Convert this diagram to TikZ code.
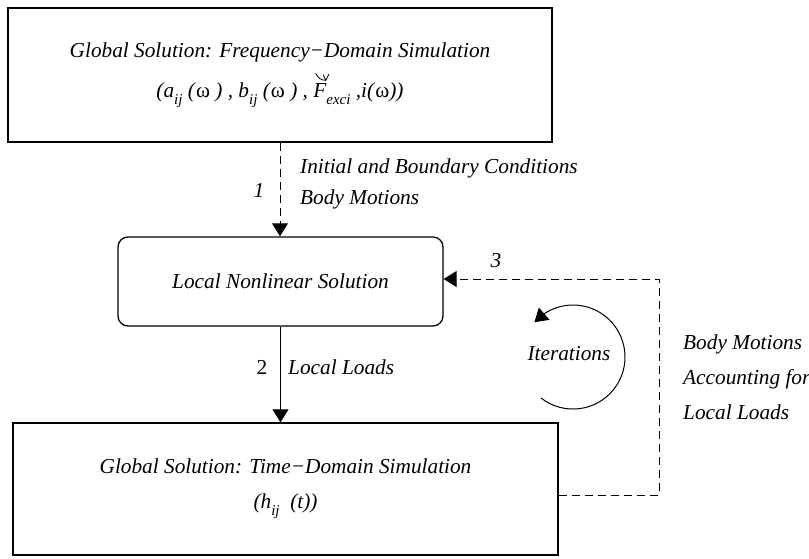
\documentclass[tikz,border=0pt]{standalone}
\usepackage{fontspec}
\setmainfont{Liberation Serif}
\usetikzlibrary{arrows.meta,bending}

% lowered subscript in running italic text
\newcommand\lowsub[1]{\raisebox{-0.32em}{\fontsize{15}{15}\selectfont #1}}
% upright omega
\newcommand\om{\textup{ω}}
% F with the curved check accent drawn over it
\newcommand\Fcheck{\makebox[0pt][l]{\hspace{2pt}\raisebox{0.8em}{\tikz[baseline=0pt,x=1pt,y=1pt]
  \draw[line width=0.8pt,line cap=round,line join=miter]
  (0,7) .. controls (2,2) and (6,0) .. (10,0) (7.5,5.5) -- (10,0) -- (13,6);}}F}

\begin{document}
\begin{tikzpicture}[x=1pt,y=1pt,
  every node/.style={inner sep=0pt},
  font=\fontsize{21.3}{26}\selectfont\itshape,
  box/.style={draw, line width=1.3pt, align=center},
  link/.style={line width=1pt, -{Triangle[length=13pt,width=16pt]}},
  dashlink/.style={link, dash pattern=on 8pt off 5pt}]
\useasboundingbox (0,0) rectangle (809,558);

% the three solution stages
\node[box, minimum width=544pt, minimum height=134pt,
      font=\fontsize{21.3}{40}\selectfont\itshape] (freq) at (280,483)
  {Global Solution: Frequency−Domain Simulation\\
   (a\lowsub{ij} (\om\ ) , b\lowsub{ij} (\om\ ) , \Fcheck\lowsub{exci} ,i(\om))};
\node[box, rounded corners=10pt, minimum width=325pt, minimum height=89pt] (loc)
  at (280.5,276.5) {Local Nonlinear Solution};
\node[box, minimum width=545pt, minimum height=132pt,
      font=\fontsize{21.3}{35}\selectfont\itshape] (tdom) at (285.5,69)
  {Global Solution: Time−Domain Simulation\\
   (h\lowsub{ij}\ \ (t))};

% step 1
\draw[dashlink] (freq.south) -- (freq.south |- loc.north);
\node (n1) at (259,368) {1};
\node[anchor=west, align=left, font=\fontsize{21.3}{31}\selectfont\itshape] (ibc)
  at (300,374.5) {Initial and Boundary Conditions\\Body Motions};

% step 2
\draw[link] (loc.south) -- (loc.south |- tdom.north);
\node (n2) at (262,191) {\upshape 2};
\node[anchor=west] (ll) at (288,191) {Local Loads};

% step 3: feedback loop
\coordinate (turn) at (659,279);
\draw[dashlink] ([yshift=-6pt]tdom.east) -| (turn) -- (turn -| loc.east);
\node (n3) at (496,297) {3};
\node[anchor=west, align=left, font=\fontsize{21.3}{35}\selectfont\itshape] (fb)
  at (683,181) {Body Motions\\Accounting for\\Local Loads};

% iteration loop
\coordinate (itstart) at (541,160);
\draw[link] (itstart) arc[start angle=-128, end angle=138, radius=52pt];
\node (iter) at (569,204) {Iterations};
\end{tikzpicture}
\end{document}
